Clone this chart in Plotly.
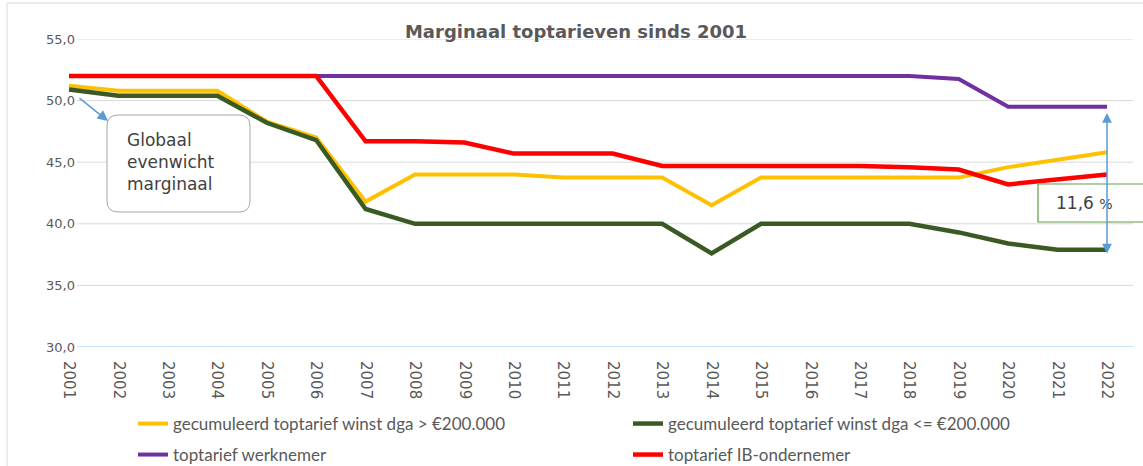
import plotly.graph_objects as go

# ---------------- data ----------------
years = list(range(2001, 2023))
year_labels = [str(y) for y in years]

dga_boven_200k = [51.2, 50.8, 50.8, 50.8, 48.3, 47.0, 41.8, 44.0, 44.0, 44.0, 43.75,
                  43.75, 43.75, 41.5, 43.75, 43.75, 43.75, 43.75, 43.75, 44.6, 45.2, 45.8]
dga_tot_200k = [50.9, 50.4, 50.4, 50.4, 48.2, 46.8, 41.2, 40.0, 40.0, 40.0, 40.0,
                40.0, 40.0, 37.6, 40.0, 40.0, 40.0, 40.0, 39.3, 38.4, 37.9, 37.9]
werknemer = [52.0, 52.0, 52.0, 52.0, 52.0, 52.0, 52.0, 52.0, 52.0, 52.0, 52.0,
             52.0, 52.0, 52.0, 52.0, 52.0, 52.0, 52.0, 51.75, 49.5, 49.5, 49.5]
ib_ondernemer = [52.0, 52.0, 52.0, 52.0, 52.0, 52.0, 46.7, 46.7, 46.6, 45.7, 45.7,
                 45.7, 44.7, 44.7, 44.7, 44.7, 44.7, 44.6, 44.4, 43.2, 43.6, 44.0]

series_names = [
    "gecumuleerd toptarief winst dga > €200.000",
    "gecumuleerd toptarief winst dga <= €200.000",
    "toptarief werknemer",
    "toptarief IB-ondernemer",
]
y_ticks = [30, 35, 40, 45, 50, 55]
title_text = "Marginaal toptarieven sinds 2001"
box_text = "Globaal<br>evenwicht<br>marginaal"
diff_text = "11,6 <span style='font-size:14px'>%</span>"

# ---------------- layout geometry ----------------
W, H = 1143, 466
L, R, T, B = 66, 10, 39, 119
pw, ph = W - L - R, H - T - B


def fx(px):
    return (px - L) / pw


def fy(py):
    return (H - B - py) / ph


step = 49.43  # px per year
x_range = [years[0] - 3 / step, years[0] + (W - R - 69) / step]

colors = ["#FFC000", "#3A5A24", "#7030A0", "#FF0000"]
widths = [4, 4.5, 4, 4.5]
legend_ids = ["legend", "legend2", "legend3", "legend4"]
legend_pos = [(133, 424), (628, 424), (133, 455), (628, 455)]
data = [dga_boven_200k, dga_tot_200k, werknemer, ib_ondernemer]

fig = go.Figure()
for name, vals, c, w, lg in zip(series_names, data, colors, widths, legend_ids):
    fig.add_trace(go.Scatter(x=years, y=vals, mode="lines", name=name,
                             line=dict(color=c, width=w), legend=lg,
                             hoverinfo="x+y+name"))

shapes = []
# outer chart border
shapes.append(dict(type="rect", xref="paper", yref="paper", x0=fx(7), x1=fx(W + 20),
                   y0=fy(H + 20), y1=fy(3), line=dict(color="#d9d9d9", width=1),
                   layer="below"))
# gridlines
for t in y_ticks[1:]:
    shapes.append(dict(type="line", xref="paper", yref="y", x0=fx(77), x1=1, y0=t, y1=t,
                       line=dict(color="#d9d9d9", width=1), layer="below"))
# category axis line
shapes.append(dict(type="line", xref="paper", yref="y", x0=fx(77), x1=1,
                   y0=y_ticks[0], y1=y_ticks[0],
                   line=dict(color="#C9E3F6", width=2), layer="below"))
# rounded annotation box
x0, x1, y0, y1 = fx(107), fx(250), fy(212), fy(115)
rx, ry = 11 / pw, 11 / ph
path = (f"M {x0+rx},{y1} L {x1-rx},{y1} Q {x1},{y1} {x1},{y1-ry} L {x1},{y0+ry} "
        f"Q {x1},{y0} {x1-rx},{y0} L {x0+rx},{y0} Q {x0},{y0} {x0},{y0+ry} "
        f"L {x0},{y1-ry} Q {x0},{y1} {x0+rx},{y1} Z")
shapes.append(dict(type="path", xref="paper", yref="paper", path=path,
                   fillcolor="white", line=dict(color="#a6a6a6", width=1)))
# green box for difference
shapes.append(dict(type="rect", xref="paper", yref="paper", x0=fx(1038), x1=fx(W + 30),
                   y0=fy(222), y1=fy(184), fillcolor="white",
                   line=dict(color="#5E9E45", width=1.2)))

annotations = [
    dict(text=box_text, xref="paper", yref="paper", x=fx(125), y=fy(162),
         xanchor="left", yanchor="middle", align="left", showarrow=False,
         font=dict(family="DejaVu Sans", size=17, color="#404040")),
    dict(text="", xref="paper", yref="paper", x=fx(108), y=fy(121), ax=-30, ay=-24,
         showarrow=True, arrowhead=2, arrowsize=1.4, arrowwidth=1.5, arrowcolor="#5B9BD5"),
    dict(text=diff_text, xref="paper", yref="paper", x=fx(1054), y=fy(203),
         xanchor="left", yanchor="middle", showarrow=False,
         font=dict(family="DejaVu Sans", size=17, color="#404040")),
    dict(text="", xref="x", yref="paper", x=years[-1], y=fy(113), ax=0, ay=142,
         showarrow=True, arrowside="end+start", arrowhead=2, startarrowhead=2,
         arrowsize=1.3, startarrowsize=1.3, arrowwidth=1.5, arrowcolor="#5B9BD5"),
]

legend_layouts = {}
for lid, (lx, ly) in zip(legend_ids, legend_pos):
    legend_layouts[lid] = dict(
        orientation="h", xref="container", yref="container",
        x=lx / W, y=1 - ly / H, xanchor="left", yanchor="middle",
        bgcolor="rgba(0,0,0,0)", borderwidth=0,
        font=dict(family="Lato", size=17, color="#595959"))

fig.update_layout(
    width=W, height=H,
    margin=dict(l=L, r=R, t=T, b=B, pad=0),
    paper_bgcolor="white", plot_bgcolor="white",
    separators=",.",
    title=dict(text=f"<b>{title_text}</b>", xref="container", yref="container",
               x=576 / W, xanchor="center", y=1 - 32 / H, yanchor="middle",
               font=dict(family="DejaVu Sans", size=18, color="#595959")),
    xaxis=dict(range=x_range, tickmode="array", tickvals=years, ticktext=year_labels,
               tickangle=90, showgrid=False, zeroline=False, showline=False, ticks="",
               ticklabelstandoff=13, automargin=False,
               tickfont=dict(family="DejaVu Sans", size=15, color="#595959")),
    yaxis=dict(range=[y_ticks[0], y_ticks[-1]], tickmode="array", tickvals=y_ticks,
               tickformat=".1f", showgrid=False, zeroline=False, showline=False, ticks="",
               ticklabelstandoff=-10, automargin=False,
               tickfont=dict(family="DejaVu Sans", size=13, color="#595959")),
    shapes=shapes,
    annotations=annotations,
    showlegend=True,
    **legend_layouts,
)

fig.write_html("out.html", config={"displayModeBar": False},
               post_script="document.body.style.margin='0px';document.body.style.padding='0px';")
